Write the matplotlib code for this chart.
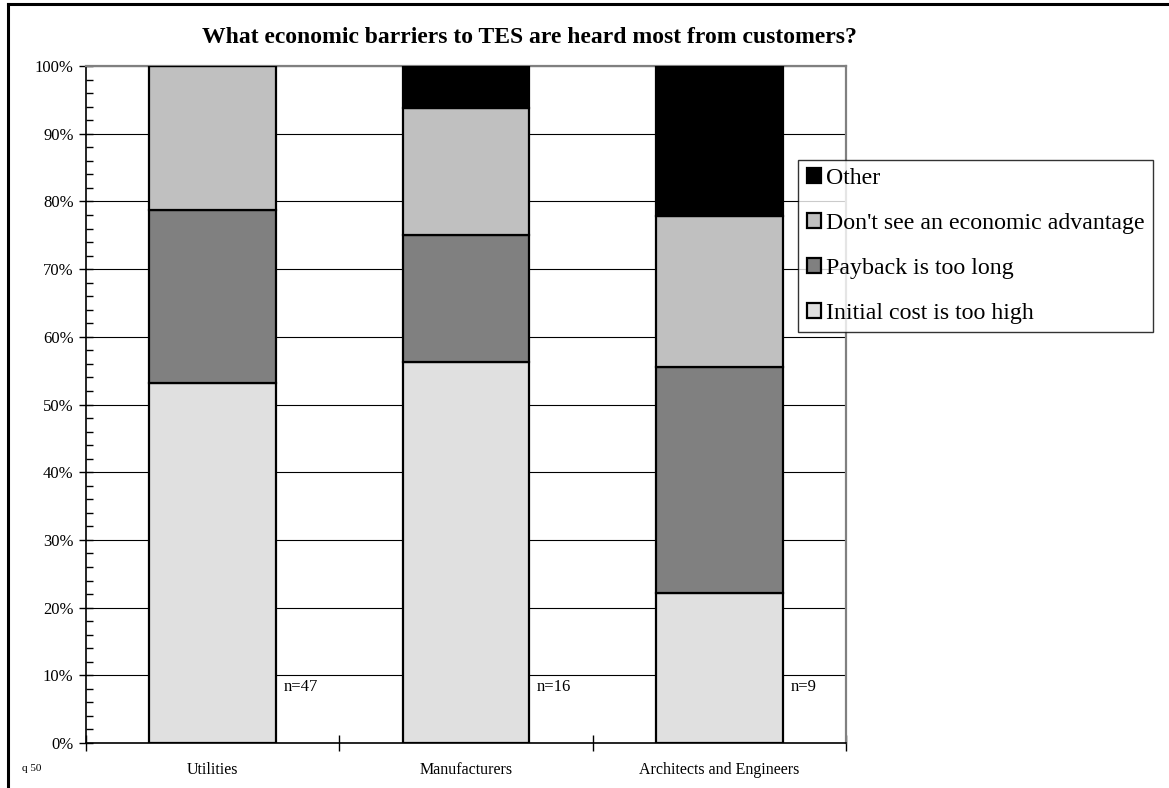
"""Stacked share of economic barriers to TES reported by each customer group."""

import matplotlib.pyplot as plt
from matplotlib.lines import Line2D
from matplotlib.ticker import MultipleLocator, PercentFormatter

plt.rcParams['font.family'] = 'Liberation Serif'

groups = ['Utilities', 'Manufacturers', 'Architects and Engineers']
n_resp = [47, 16, 9]
# share of respondents (%) per barrier, bottom to top
initial_cost = [53.2, 56.25, 22.2]
payback = [25.5, 18.75, 33.4]
no_advantage = [21.3, 18.75, 22.2]
other = [0.0, 6.25, 22.2]

series = [
    ('Initial cost is too high', initial_cost, '#e0e0e0'),
    ('Payback is too long', payback, '#808080'),
    ("Don't see an economic advantage", no_advantage, '#c0c0c0'),
    ('Other', other, '#000000'),
]

fig = plt.figure(figsize=(11.69, 7.88), dpi=100)
ax = fig.add_axes([0.0736, 0.0571, 0.6501, 0.8591])

x = range(len(groups))
bottom = [0.0] * len(groups)
handles = []
for label, vals, color in series:
    bars = ax.bar(x, vals, width=0.5, bottom=bottom, color=color,
                  edgecolor='black', linewidth=1.6, label=label, zorder=3)
    handles.append(bars)
    bottom = [b + v for b, v in zip(bottom, vals)]

for i, n in enumerate(n_resp):
    ax.text(i + 0.28, 8.3, f'n={n}', fontsize=12, va='center', ha='left')

ax.set_xlim(-0.5, 2.5)
ax.set_ylim(0, 100)
ax.set_xticks([-0.5, 0.5, 1.5, 2.5])
ax.set_xticklabels([])
ax.set_xticks(list(x), minor=True)
ax.set_xticklabels(groups, minor=True, fontsize=11.5)
ax.tick_params(axis='x', which='major', direction='inout', length=12, width=1)
ax.tick_params(axis='x', which='minor', length=0, pad=14)

ax.yaxis.set_major_locator(MultipleLocator(10))
ax.yaxis.set_minor_locator(MultipleLocator(2))
ax.yaxis.set_major_formatter(PercentFormatter(decimals=0))
ax.tick_params(axis='y', which='major', direction='inout', length=10, width=1,
               labelsize=12, pad=4)
ax.tick_params(axis='y', which='minor', direction='in', length=5, width=1)

ax.set_axisbelow(True)
ax.yaxis.grid(True, which='major', color='black', linewidth=0.8)
for side in ('left', 'bottom'):
    ax.spines[side].set_linewidth(1.2)
for side in ('top', 'right'):
    ax.spines[side].set_color('#808080')
    ax.spines[side].set_linewidth(1.6)

fig.text(0.453, 0.953, 'What economic barriers to TES are heard most from customers?',
         ha='center', va='center', fontsize=17, fontweight='bold')
fig.text(0.019, 0.022, 'q 50', fontsize=8)

leg = fig.legend(handles[::-1], [s[0] for s in series][::-1],
                 loc='upper left', bbox_to_anchor=(0.683, 0.797),
                 fontsize=17.2, frameon=True, fancybox=False,
                 handlelength=0.6, handleheight=0.6, handletextpad=0.2,
                 labelspacing=1.0, borderpad=0.35, borderaxespad=0)
leg.get_frame().set_edgecolor('black')
leg.get_frame().set_linewidth(1.0)

# outer chart border (only the top and left edges fall inside the image)
fig.add_artist(Line2D([0.0065, 0.0065], [-0.1, 0.9955], color='black', linewidth=2.2))
fig.add_artist(Line2D([0.0065, 1.1], [0.9955, 0.9955], color='black', linewidth=2.2))

fig.savefig('out.png', dpi=100)
